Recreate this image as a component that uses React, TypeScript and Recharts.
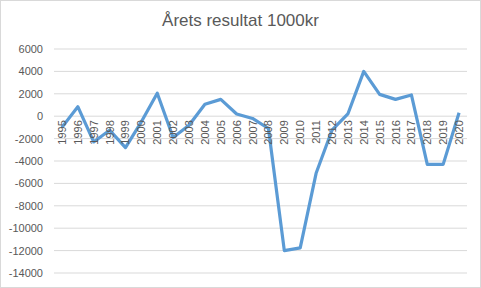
import { LineChart, Line, XAxis, YAxis, CartesianGrid, LabelList } from "recharts";

const years = [
  "1995", "1996", "1997", "1998", "1999", "2000", "2001", "2002", "2003", "2004",
  "2005", "2006", "2007", "2008", "2009", "2010", "2011", "2012", "2013", "2014",
  "2015", "2016", "2017", "2018", "2019", "2020",
];
const results = [
  -1000, 850, -2300, -1250, -2800, -500, 2050, -1900, -800, 1070,
  1500, 200, -200, -1100, -12000, -11750, -5100, -1250, 200, 4000,
  1950, 1500, 1900, -4300, -4300, 300,
];
const yTicks = [6000, 4000, 2000, 0, -2000, -4000, -6000, -8000, -10000, -12000, -14000];

const data = years.map((year, i) => ({ year, value: results[i], zero: 0 }));

const FONT = "'Liberation Sans', Arial, sans-serif";
const TEXT = "#595959";

// year labels sit just under the 0 line, rotated like Excel's
function YearLabel(props: any) {
  const { x, y, value } = props;
  return (
    <text
      x={x}
      y={y + 4}
      transform={`rotate(-90, ${x}, ${y + 4})`}
      textAnchor="end"
      dominantBaseline="central"
      fontSize={11}
      fontFamily={FONT}
      fill={TEXT}
    >
      {value}
    </text>
  );
}

export default function App() {
  return (
    <div
      style={{
        position: "absolute",
        left: 0,
        top: 0,
        width: 481,
        height: 288,
        boxSizing: "border-box",
        border: "1px solid #d9d9d9",
        background: "#fff",
      }}
    >
      <div
        style={{
          position: "absolute",
          left: 0,
          top: 9,
          width: "100%",
          textAlign: "center",
          fontFamily: FONT,
          fontSize: 17,
          color: TEXT,
          lineHeight: "22px",
        }}
      >
        Årets resultat 1000kr
      </div>
      <div style={{ position: "absolute", left: -1, top: -1 }}>
        <LineChart width={481} height={288} data={data} margin={{ top: 49, right: 14, bottom: 15, left: 0 }}>
          <CartesianGrid vertical={false} stroke="#d9d9d9" />
          <XAxis dataKey="year" scale="band" hide />
          <YAxis
            width={54}
            domain={[-14000, 6000]}
            ticks={yTicks}
            interval={0}
            axisLine={false}
            tickLine={false}
            tickSize={0}
            tickMargin={11}
            tick={{ fontSize: 11, fontFamily: FONT, fill: TEXT }}
          />
          <Line
            dataKey="zero"
            stroke="none"
            dot={false}
            activeDot={false}
            isAnimationActive={false}
          >
            <LabelList dataKey="year" content={YearLabel} />
          </Line>
          <Line
            dataKey="value"
            stroke="#5b9bd5"
            strokeWidth={3.2}
            strokeLinejoin="round"
            dot={false}
            activeDot={false}
            isAnimationActive={false}
          />
        </LineChart>
      </div>
    </div>
  );
}
